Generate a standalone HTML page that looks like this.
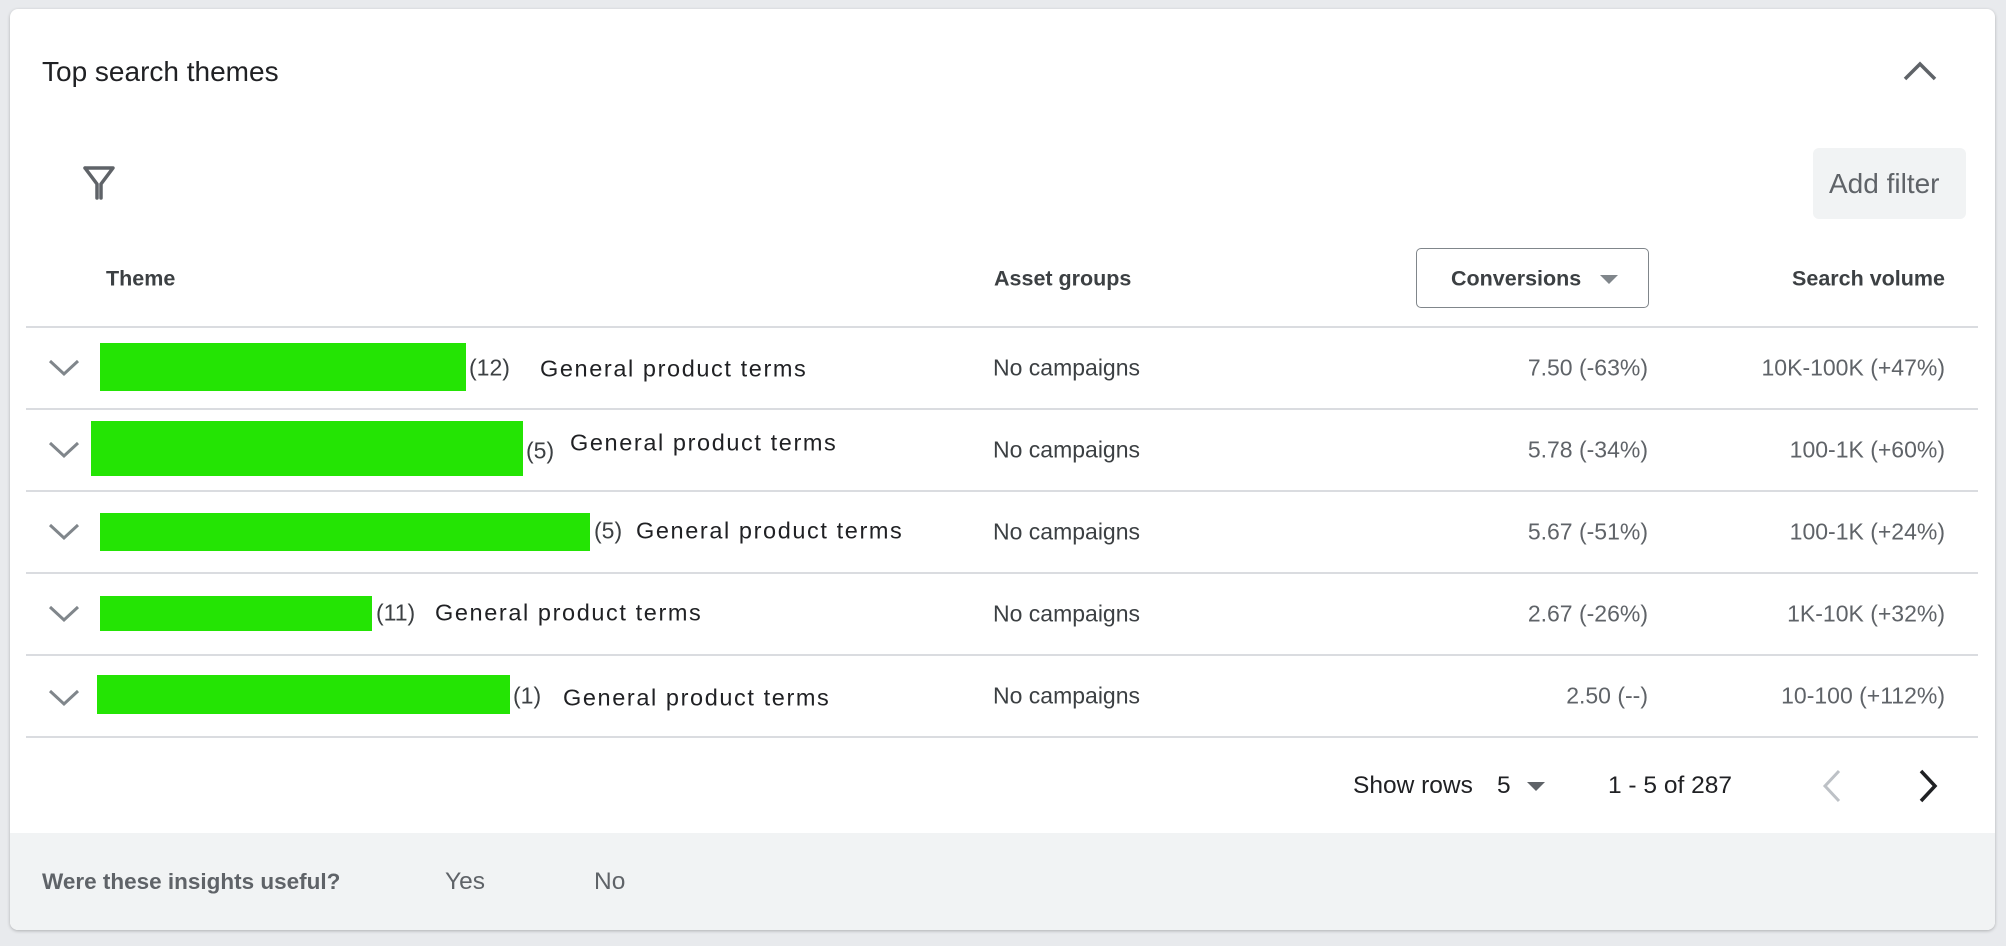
<!DOCTYPE html>
<html><head><meta charset="utf-8"><style>
body{margin:0;width:2006px;height:946px;background:#e8eaed;font-family:"Liberation Sans",sans-serif;position:relative;overflow:hidden}
.card{position:absolute;left:10px;top:9px;width:1985px;height:921px;background:#fff;border-radius:8px;box-shadow:0 1px 3px rgba(0,0,0,.25);overflow:hidden}
.t{position:absolute;white-space:nowrap;transform:translateY(-50%)}
.r{text-align:right;transform:translate(-100%,-50%)}
.line{position:absolute;left:16px;width:1952px;height:2px;background:#dadce0}
.g{position:absolute;background:#24e404}
.gp{color:#202124;font-size:23.5px;letter-spacing:1.6px}
.cn{color:#3c4043;font-size:23px}
.nc{color:#3c4043;font-size:23px}
.v{color:#5f6368;font-size:23px}
.h{color:#3c4043;font-size:21.5px;font-weight:bold}
</style></head><body>
<div class="card">
<div class="t" style="left:32px;top:63px;font-size:28px;color:#202124">Top search themes</div>
<svg style="position:absolute;left:1892px;top:50px" width="36" height="24" viewBox="0 0 36 24"><path d="M3 20 L18 5 L33 20" fill="none" stroke="#5f6368" stroke-width="3.5"/></svg>
<svg style="position:absolute;left:72px;top:156px" width="34" height="36" viewBox="0 0 34 36"><path d="M3 3 H31 L19 19 V33 M15 33 V19 L3 3" fill="none" stroke="#5f6368" stroke-width="3.5" stroke-linejoin="round" stroke-linecap="round"/></svg>
<div style="position:absolute;left:1803px;top:139px;width:153px;height:71px;background:#f1f3f4;border-radius:6px"></div>
<div class="t" style="left:1819px;top:175px;font-size:28px;color:#5f6368">Add filter</div>
<div class="t h" style="left:96px;top:270px">Theme</div>
<div class="t h" style="left:984px;top:270px">Asset groups</div>
<div style="position:absolute;left:1406px;top:239px;width:231px;height:58px;border:1.5px solid #80868b;border-radius:5px"></div>
<div class="t h" style="left:1441px;top:270px">Conversions</div>
<div style="position:absolute;left:1590px;top:266px;width:0;height:0;border-left:9px solid transparent;border-right:9px solid transparent;border-top:9px solid #80868b"></div>
<div class="t h r" style="left:1935px;top:270px">Search volume</div>
<div class="line" style="top:317px"></div>
<div class="line" style="top:399px"></div>
<div class="line" style="top:481px"></div>
<div class="line" style="top:563px"></div>
<div class="line" style="top:645px"></div>
<div class="line" style="top:727px"></div>

<svg style="position:absolute;left:38px;top:350px" width="32" height="300" viewBox="0 0 32 300">
<g fill="none" stroke="#80868b" stroke-width="3">
<path d="M2 2 L16 15 L30 2"/><path d="M2 84 L16 97 L30 84"/><path d="M2 166 L16 179 L30 166"/><path d="M2 248 L16 261 L30 248"/></g></svg>
<svg style="position:absolute;left:38px;top:680px" width="32" height="20" viewBox="0 0 32 20"><path d="M2 2 L16 15 L30 2" fill="none" stroke="#80868b" stroke-width="3"/></svg>

<div class="g" style="left:90px;top:334px;width:366px;height:48px"></div>
<div class="g" style="left:81px;top:412px;width:432px;height:55px"></div>
<div class="g" style="left:90px;top:504px;width:490px;height:38px"></div>
<div class="g" style="left:90px;top:587px;width:272px;height:35px"></div>
<div class="g" style="left:87px;top:666px;width:413px;height:39px"></div>

<div class="t cn" style="left:459px;top:359px">(12)</div><div class="t gp" style="left:530px;top:360px">General product terms</div>
<div class="t cn" style="left:516px;top:442px">(5)</div><div class="t gp" style="left:560px;top:434px">General product terms</div>
<div class="t cn" style="left:584px;top:522px">(5)</div><div class="t gp" style="left:626px;top:522px">General product terms</div>
<div class="t cn" style="left:366px;top:604px">(11)</div><div class="t gp" style="left:425px;top:604px">General product terms</div>
<div class="t cn" style="left:503px;top:687px">(1)</div><div class="t gp" style="left:553px;top:689px">General product terms</div>

<div class="t nc" style="left:983px;top:359px">No campaigns</div>
<div class="t nc" style="left:983px;top:441px">No campaigns</div>
<div class="t nc" style="left:983px;top:523px">No campaigns</div>
<div class="t nc" style="left:983px;top:605px">No campaigns</div>
<div class="t nc" style="left:983px;top:687px">No campaigns</div>

<div class="t v r" style="left:1638px;top:359px">7.50 (-63%)</div>
<div class="t v r" style="left:1638px;top:441px">5.78 (-34%)</div>
<div class="t v r" style="left:1638px;top:523px">5.67 (-51%)</div>
<div class="t v r" style="left:1638px;top:605px">2.67 (-26%)</div>
<div class="t v r" style="left:1638px;top:687px">2.50 (--)</div>
<div class="t v r" style="left:1935px;top:359px">10K-100K (+47%)</div>
<div class="t v r" style="left:1935px;top:441px">100-1K (+60%)</div>
<div class="t v r" style="left:1935px;top:523px">100-1K (+24%)</div>
<div class="t v r" style="left:1935px;top:605px">1K-10K (+32%)</div>
<div class="t v r" style="left:1935px;top:687px">10-100 (+112%)</div>

<div class="t" style="left:1343px;top:777px;font-size:24.5px;color:#202124">Show rows</div>
<div class="t" style="left:1487px;top:777px;font-size:24.5px;color:#202124">5</div>
<div style="position:absolute;left:1517px;top:773px;border-left:9px solid transparent;border-right:9px solid transparent;border-top:9px solid #5f6368"></div>
<div class="t" style="left:1598px;top:777px;font-size:24.5px;color:#202124">1 - 5 of 287</div>
<svg style="position:absolute;left:1812px;top:760px" width="20" height="34" viewBox="0 0 20 34"><path d="M17 2 L3 17 L17 32" fill="none" stroke="#bdc1c6" stroke-width="3"/></svg>
<svg style="position:absolute;left:1908px;top:760px" width="20" height="34" viewBox="0 0 20 34"><path d="M3 2 L17 17 L3 32" fill="none" stroke="#202124" stroke-width="3.5"/></svg>

<div style="position:absolute;left:0;top:824px;width:1985px;height:97px;background:#f1f3f4"></div>
<div class="t" style="left:32px;top:873px;font-size:22.5px;font-weight:bold;color:#5f6368">Were these insights useful?</div>
<div class="t" style="left:435px;top:873px;font-size:24.5px;color:#5f6368">Yes</div>
<div class="t" style="left:584px;top:873px;font-size:24.5px;color:#5f6368">No</div>
</div>
</body></html>
